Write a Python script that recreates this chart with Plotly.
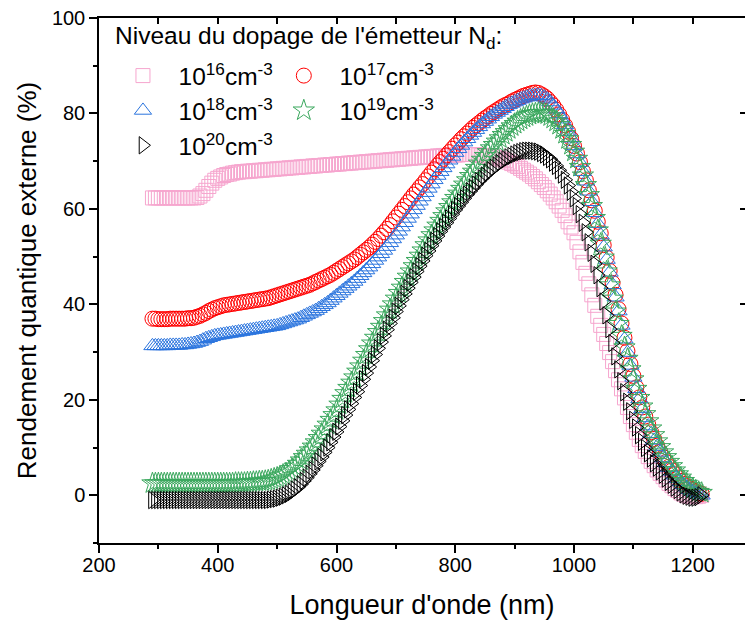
import plotly.graph_objects as go

# wavelength grid (nm)
wavelength = list(range(290, 1220, 5))

# External quantum efficiency (%) for each emitter doping level
eqe_1e16 = [
    62.3, 62.3, 62.3, 62.3, 62.3, 62.3, 62.3, 62.3, 62.3, 62.3,
    62.3, 62.3, 62.3, 62.3, 62.3, 62.4, 62.7, 63.2, 63.9, 64.7,
    65.4, 66.0, 66.4, 66.7, 67.0, 67.2, 67.3, 67.5, 67.6, 67.7,
    67.8, 67.8, 67.9, 67.9, 68.0, 68.0, 68.1, 68.1, 68.2, 68.2,
    68.3, 68.3, 68.4, 68.4, 68.5, 68.5, 68.6, 68.6, 68.7, 68.7,
    68.8, 68.8, 68.9, 68.9, 69.0, 69.0, 69.1, 69.1, 69.2, 69.2,
    69.3, 69.3, 69.4, 69.4, 69.5, 69.5, 69.6, 69.6, 69.7, 69.7,
    69.8, 69.8, 69.9, 69.9, 70.0, 70.0, 70.1, 70.1, 70.2, 70.2,
    70.3, 70.3, 70.4, 70.4, 70.5, 70.5, 70.6, 70.6, 70.7, 70.7,
    70.8, 70.8, 70.9, 70.9, 71.0, 71.0, 71.1, 71.1, 71.2, 71.2,
    71.2, 71.3, 71.3, 71.3, 71.4, 71.4, 71.4, 71.4, 71.4, 71.4,
    71.3, 71.2, 71.1, 71.0, 71.0, 70.9, 70.7, 70.5, 70.3, 70.1,
    69.8, 69.5, 69.2, 68.9, 68.5, 68.1, 67.7, 67.3, 66.8, 66.3,
    65.7, 65.1, 64.5, 63.8, 63.1, 62.3, 61.5, 60.6, 59.7, 58.6,
    57.3, 56.2, 55.0, 53.0, 51.0, 48.8, 46.5, 44.3, 42.0, 39.8,
    37.5, 35.6, 33.7, 31.8, 29.9, 28.0, 26.1, 24.2, 22.3, 20.4,
    18.4, 16.5, 14.8, 13.2, 11.7, 10.4, 9.2, 8.1, 7.1, 6.2,
    5.3, 4.6, 3.9, 3.2, 2.5, 2.0, 1.4, 1.0, 0.5, 0.2,
    -0.1, -0.2, -0.3, -0.3, -0.2, 0.0,
]

eqe_1e17 = [
    37.0, 37.0, 36.9, 36.9, 36.9, 36.9, 37.0, 37.0, 37.0, 37.0,
    37.0, 37.0, 37.1, 37.1, 37.2, 37.4, 37.6, 37.9, 38.2, 38.6,
    38.9, 39.2, 39.4, 39.6, 39.8, 39.9, 40.0, 40.1, 40.2, 40.3,
    40.4, 40.5, 40.6, 40.7, 40.8, 40.9, 41.0, 41.1, 41.2, 41.3,
    41.5, 41.7, 41.9, 42.1, 42.3, 42.5, 42.7, 42.9, 43.1, 43.3,
    43.5, 43.7, 43.9, 44.1, 44.4, 44.7, 45.0, 45.3, 45.6, 45.9,
    46.2, 46.6, 47.0, 47.4, 47.8, 48.2, 48.6, 49.0, 49.4, 49.9,
    50.4, 50.9, 51.4, 51.9, 52.5, 53.1, 53.7, 54.4, 55.1, 55.8,
    56.6, 57.4, 58.2, 59.0, 59.8, 60.6, 61.4, 62.2, 63.0, 63.7,
    64.5, 65.2, 66.0, 66.8, 67.6, 68.3, 69.1, 69.8, 70.5, 71.2,
    71.9, 72.6, 73.3, 73.9, 74.6, 75.2, 75.8, 76.4, 77.0, 77.5,
    78.0, 78.5, 79.0, 79.4, 79.9, 80.3, 80.7, 81.1, 81.5, 81.8,
    82.1, 82.5, 82.8, 83.1, 83.4, 83.7, 83.9, 84.1, 84.3, 84.4,
    84.3, 84.0, 83.6, 83.1, 82.4, 81.7, 80.8, 79.8, 78.7, 77.5,
    76.2, 74.8, 73.2, 71.6, 69.8, 67.9, 66.0, 63.9, 61.8, 59.6,
    57.3, 54.9, 52.4, 49.8, 47.0, 44.5, 42.0, 39.0, 36.0, 33.0,
    30.2, 27.5, 25.0, 22.6, 20.5, 18.4, 16.5, 14.8, 13.2, 11.8,
    10.4, 9.2, 8.0, 7.0, 6.0, 5.2, 4.4, 3.7, 3.0, 2.4,
    1.9, 1.5, 1.1, 0.8, 0.5, 0.3,
]

eqe_1e18 = [
    31.3, 31.3, 31.3, 31.3, 31.3, 31.3, 31.4, 31.4, 31.4, 31.4,
    31.5, 31.5, 31.6, 31.7, 31.8, 32.0, 32.2, 32.5, 32.8, 33.0,
    33.2, 33.4, 33.5, 33.6, 33.7, 33.8, 33.9, 34.0, 34.1, 34.2,
    34.3, 34.4, 34.5, 34.6, 34.7, 34.8, 34.9, 35.0, 35.1, 35.2,
    35.3, 35.4, 35.5, 35.7, 35.9, 36.1, 36.3, 36.5, 36.7, 36.9,
    37.2, 37.5, 37.8, 38.1, 38.4, 38.7, 39.1, 39.5, 39.9, 40.3,
    40.8, 41.3, 41.8, 42.3, 42.8, 43.3, 43.8, 44.3, 44.8, 45.4,
    46.0, 46.6, 47.2, 47.8, 48.5, 49.2, 49.9, 50.6, 51.3, 52.1,
    52.9, 53.7, 54.5, 55.3, 56.2, 57.1, 58.0, 58.9, 59.8, 60.7,
    61.6, 62.5, 63.4, 64.3, 65.2, 66.1, 67.0, 67.8, 68.6, 69.4,
    70.2, 71.0, 71.8, 72.6, 73.3, 74.0, 74.7, 75.4, 76.0, 76.6,
    77.2, 77.8, 78.3, 78.8, 79.3, 79.8, 80.2, 80.6, 81.0, 81.4,
    81.8, 82.1, 82.4, 82.7, 83.0, 83.2, 83.4, 83.6, 83.7, 83.8,
    83.8, 83.7, 83.4, 83.0, 82.4, 81.7, 80.9, 79.9, 78.8, 77.6,
    76.2, 74.8, 73.2, 71.5, 69.7, 67.8, 65.8, 63.7, 61.5, 59.2,
    56.9, 54.5, 52.0, 49.4, 46.7, 44.1, 41.5, 38.6, 35.6, 32.7,
    29.9, 27.2, 24.7, 22.3, 20.2, 18.1, 16.2, 14.5, 12.9, 11.5,
    10.2, 9.0, 7.8, 6.8, 5.8, 5.0, 4.2, 3.5, 2.8, 2.2,
    1.7, 1.2, 0.8, 0.5, 0.2, 0.0,
]

eqe_1e19 = [
    2.5, 2.5, 2.5, 2.5, 2.5, 2.5, 2.5, 2.5, 2.5, 2.5,
    2.5, 2.5, 2.5, 2.5, 2.5, 2.5, 2.5, 2.5, 2.5, 2.5,
    2.5, 2.5, 2.5, 2.5, 2.5, 2.5, 2.5, 2.5, 2.6, 2.6,
    2.6, 2.6, 2.7, 2.7, 2.8, 2.8, 2.9, 2.9, 3.0, 3.1,
    3.3, 3.5, 3.7, 4.0, 4.3, 4.6, 5.0, 5.5, 6.0, 6.6,
    7.3, 8.0, 8.7, 9.4, 10.2, 11.1, 12.0, 12.9, 13.8, 14.8,
    15.8, 16.8, 17.8, 19.0, 20.2, 21.4, 22.5, 23.6, 24.7, 25.9,
    27.0, 28.2, 29.4, 30.6, 31.8, 33.0, 34.2, 35.3, 36.5, 37.7,
    38.9, 40.0, 41.2, 42.4, 43.5, 44.7, 45.8, 46.9, 48.0, 49.1,
    50.2, 51.3, 52.4, 53.4, 54.5, 55.5, 56.5, 57.5, 58.5, 59.5,
    60.4, 61.4, 62.3, 63.2, 64.2, 65.1, 66.0, 66.9, 67.8, 68.6,
    69.5, 70.3, 71.1, 71.9, 72.7, 73.4, 74.1, 74.8, 75.5, 76.1,
    76.7, 77.3, 77.8, 78.3, 78.7, 79.1, 79.4, 79.7, 79.9, 80.0,
    80.1, 80.1, 80.0, 79.8, 79.4, 78.9, 78.3, 77.6, 76.7, 75.7,
    74.6, 73.4, 72.0, 70.5, 68.8, 67.0, 65.0, 62.9, 60.6, 58.1,
    55.5, 52.7, 49.8, 46.9, 44.0, 41.2, 38.5, 35.9, 33.4, 31.0,
    28.6, 26.4, 24.3, 22.3, 20.4, 18.6, 17.0, 15.5, 14.0, 12.6,
    11.3, 10.1, 9.0, 8.0, 7.0, 6.1, 5.2, 4.4, 3.7, 3.0,
    2.4, 1.9, 1.4, 1.0, 0.7, 0.5,
]

eqe_1e20 = [
    -1.0, -1.0, -1.0, -1.0, -1.0, -1.0, -1.0, -1.0, -1.0, -1.0,
    -1.0, -1.0, -1.0, -1.0, -1.0, -1.0, -1.0, -1.0, -1.0, -1.0,
    -1.0, -1.0, -1.0, -1.0, -1.0, -1.0, -1.0, -1.0, -1.0, -1.0,
    -1.0, -1.0, -1.0, -1.0, -1.0, -1.0, -1.0, -1.0, -1.0, -1.0,
    -0.9, -0.8, -0.7, -0.5, -0.3, 0.0, 0.3, 0.7, 1.2, 1.7,
    2.3, 3.0, 3.7, 4.5, 5.3, 6.2, 7.1, 8.0, 9.0, 10.0,
    11.1, 12.2, 13.3, 14.4, 15.6, 16.8, 18.0, 19.2, 20.5, 21.7,
    23.0, 24.3, 25.6, 26.9, 28.2, 29.5, 30.8, 32.1, 33.4, 34.7,
    36.0, 37.2, 38.5, 39.7, 41.0, 42.2, 43.4, 44.6, 45.7, 46.9,
    48.0, 49.1, 50.2, 51.2, 52.3, 53.3, 54.3, 55.3, 56.2, 57.1,
    58.0, 58.9, 59.8, 60.6, 61.4, 62.2, 63.0, 63.7, 64.4, 65.1,
    65.8, 66.4, 67.0, 67.6, 68.1, 68.6, 69.1, 69.6, 70.0, 70.4,
    70.8, 71.1, 71.4, 71.7, 71.9, 72.1, 72.2, 72.2, 72.2, 72.1,
    72.0, 71.7, 71.4, 70.9, 70.4, 69.7, 69.0, 68.1, 67.2, 66.1,
    64.9, 63.6, 62.2, 60.6, 58.9, 57.1, 55.1, 53.0, 50.8, 48.5,
    46.1, 43.4, 40.6, 37.7, 34.8, 31.9, 29.1, 26.4, 23.9, 21.6,
    19.6, 17.6, 15.8, 14.2, 12.6, 11.2, 9.9, 8.8, 7.7, 6.7,
    5.8, 5.0, 4.3, 3.5, 2.8, 2.2, 1.6, 1.1, 0.6, 0.2,
    -0.1, -0.3, -0.5, -0.5, -0.4, 0.0,
]

names = [
    "10<sup>16</sup>cm<sup>-3</sup>",
    "10<sup>17</sup>cm<sup>-3</sup>",
    "10<sup>18</sup>cm<sup>-3</sup>",
    "10<sup>19</sup>cm<sup>-3</sup>",
    "10<sup>20</sup>cm<sup>-3</sup>",
]
values = [eqe_1e16, eqe_1e17, eqe_1e18, eqe_1e19, eqe_1e20]
symbols = ["square-open", "circle-open", "triangle-up-open", "star-open", "triangle-right-open"]
colors = ["#F6A5CE", "#FF0000", "#2A74DE", "#3BA85E", "#000000"]
sizes = [14, 15, 15, 16, 15]
legends = ["legend", "legend2", "legend", "legend2", "legend"]

FONT = "Liberation Sans, Arial, sans-serif"
NB = "\u00a0\u00a0"

fig = go.Figure()
for nm, v, sym, col, sz, lg in zip(names, values, symbols, colors, sizes, legends):
    fig.add_trace(go.Scatter(
        x=wavelength, y=v, mode="markers", name=NB + nm, legend=lg,
        marker=dict(symbol=sym, size=sz, color=col, line=dict(color=col, width=1)),
    ))

# dummy trace for mirrored top/right axes
fig.add_trace(go.Scatter(x=[None], y=[None], xaxis="x2", yaxis="y2",
                         showlegend=False, hoverinfo="skip"))

XR = [200, 1288]
YR = [-10, 100]
axis_common = dict(showgrid=False, zeroline=False, showline=True, linecolor="black",
                   linewidth=1.5, tickcolor="black", tickwidth=1.5)

fig.update_layout(
    width=745, height=627,
    margin=dict(l=99, r=0, t=18, b=84),
    plot_bgcolor="white", paper_bgcolor="white",
    font=dict(family=FONT, color="black"),
    xaxis=dict(range=XR, tick0=200, dtick=200, ticks="outside", ticklen=8,
               tickfont=dict(size=20), ticklabelstandoff=-5,
               minor=dict(dtick=100, tick0=200, ticks="outside", ticklen=4,
                          tickcolor="black", tickwidth=1.5),
               title=dict(text="Longueur d'onde (nm)", font=dict(size=27), standoff=20),
               **axis_common),
    yaxis=dict(range=YR, tick0=0, dtick=20, ticks="outside", ticklen=8,
               tickfont=dict(size=20),
               minor=dict(dtick=10, tick0=0, ticks="outside", ticklen=4,
                          tickcolor="black", tickwidth=1.5),
               title=dict(text="Rendement quantique externe (%)", font=dict(size=26), standoff=8),
               **axis_common),
    xaxis2=dict(range=XR, overlaying="x", side="top", anchor="y2", tick0=200, dtick=100,
                ticks="inside", ticklen=6, showticklabels=False, **axis_common),
    yaxis2=dict(range=YR, overlaying="y", side="right", anchor="x2", tick0=0, dtick=20,
                ticks="inside", ticklen=5, showticklabels=False,
                showgrid=False, zeroline=False, showline=False,
                tickcolor="black", tickwidth=1.5),
    legend=dict(x=0.034, y=0.933, xanchor="left", yanchor="top",
                bgcolor="rgba(0,0,0,0)", font=dict(size=24.5), itemsizing="trace",
                itemwidth=34, tracegroupgap=0),
    legend2=dict(x=0.283, y=0.933, xanchor="left", yanchor="top",
                 bgcolor="rgba(0,0,0,0)", font=dict(size=24.5), itemsizing="trace",
                 itemwidth=34, tracegroupgap=0),
    annotations=[dict(text="Niveau du dopage de l'émetteur N<sub>d</sub>:",
                      xref="paper", yref="paper", x=0.021, y=0.962,
                      xanchor="left", yanchor="middle", showarrow=False,
                      font=dict(size=24.5))],
)

fig.write_html("out.html")
